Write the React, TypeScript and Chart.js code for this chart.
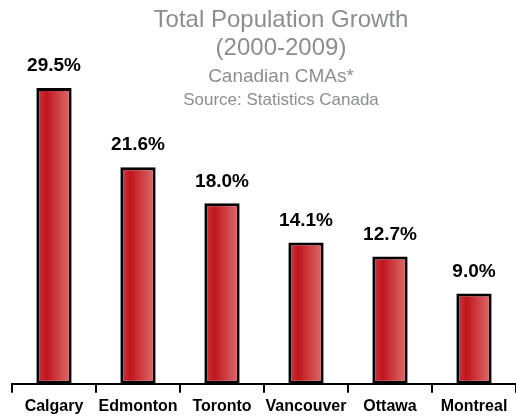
import React, { useEffect, useRef } from "react";
import { Chart, registerables } from "chart.js";

Chart.register(...registerables);

const categories = ["Calgary", "Edmonton", "Toronto", "Vancouver", "Ottawa", "Montreal"];
const growth = [29.5, 21.6, 18.0, 14.1, 12.7, 9.0];
const titleLines = ["Total Population Growth", "(2000-2009)", "Canadian CMAs*", "Source: Statistics Canada"];

const FONT = "'Liberation Sans', Arial, Helvetica, sans-serif";
const BAR_PCT = 0.42;

const titlePlugin = {
  id: "customTitle",
  afterDraw(chart: any) {
    const ctx = chart.ctx;
    ctx.save();
    ctx.fillStyle = "#8b8d8f";
    ctx.textAlign = "center";
    ctx.textBaseline = "middle";
    const specs = [
      { size: 24, y: 20 },
      { size: 24, y: 48 },
      { size: 19, y: 77 },
      { size: 17, y: 100 },
    ];
    titleLines.forEach((t, i) => {
      ctx.font = `normal ${specs[i].size}px ${FONT}`;
      ctx.fillText(t, 281, specs[i].y);
    });
    ctx.restore();
  },
};

const labelPlugin = {
  id: "barLabels",
  afterDatasetsDraw(chart: any) {
    const ctx = chart.ctx;
    const meta = chart.getDatasetMeta(0);
    ctx.save();
    ctx.fillStyle = "#000";
    ctx.textAlign = "center";
    ctx.textBaseline = "middle";
    ctx.font = `bold 19px ${FONT}`;
    meta.data.forEach((bar: any, i: number) => {
      ctx.fillText(growth[i].toFixed(1) + "%", bar.x, bar.y - 22);
    });
    ctx.restore();
  },
};

export default function App() {
  const ref = useRef<HTMLCanvasElement>(null);

  useEffect(() => {
    if (!ref.current) return;
    const chart = new Chart(ref.current, {
      type: "bar",
      data: {
        labels: categories,
        datasets: [
          {
            data: growth,
            backgroundColor: (c: any) => {
              const ch = c.chart;
              const xs = ch.scales && ch.scales.x;
              if (!xs || !ch.chartArea) return "#c41c24";
              const center = xs.getPixelForValue(c.dataIndex);
              const w = (ch.chartArea.width / categories.length) * BAR_PCT;
              const g = ch.ctx.createLinearGradient(center - w / 2, 0, center + w / 2, 0);
              g.addColorStop(0, "#d4383e");
              g.addColorStop(0.28, "#c0161e");
              g.addColorStop(1, "#dc7070");
              return g;
            },
            borderColor: "#000",
            borderWidth: 3,
            borderSkipped: false,
            barPercentage: BAR_PCT,
            categoryPercentage: 1,
          },
        ],
      },
      options: {
        animation: false,
        responsive: true,
        maintainAspectRatio: false,
        layout: { padding: { top: 83, left: 12, right: 0, bottom: -4 } },
        plugins: { legend: { display: false }, tooltip: { enabled: false }, title: { display: false } },
        scales: {
          y: { display: false, min: 0, max: 30 },
          x: {
            grid: {
              offset: true,
              drawOnChartArea: false,
              drawTicks: true,
              tickLength: 9,
              color: "#000",
              lineWidth: 2,
            },
            border: { display: true, color: "#000", width: 2 },
            ticks: {
              color: "#000",
              padding: 4,
              font: { family: FONT, size: 16, weight: "bold" },
              maxRotation: 0,
              autoSkip: false,
            },
          },
        },
      },
      plugins: [titlePlugin, labelPlugin],
    });
    return () => chart.destroy();
  }, []);

  return (
    <div style={{ position: "absolute", left: 0, top: 0, width: 516, height: 416, background: "#fff" }}>
      <canvas ref={ref} />
    </div>
  );
}
